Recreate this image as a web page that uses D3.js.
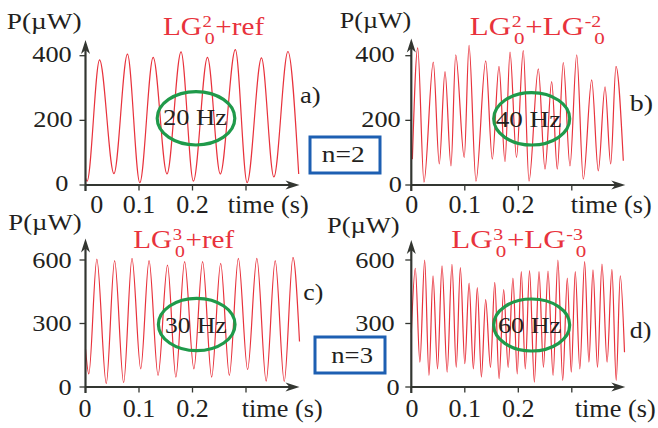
<!DOCTYPE html>
<html><head><meta charset="utf-8">
<script src="https://cdn.jsdelivr.net/npm/d3@7"></script>
<style>html,body{margin:0;padding:0;background:#fff;} svg{display:block;} text{font-family:"Liberation Serif",serif;}</style>
</head><body><svg id="chart" width="658" height="428"></svg>
<script>
// ---------- data ----------
// a) LG2_0 + ref  (20 Hz)
const aTime  = [0, 0.003, 0.0263, 0.0532, 0.0784, 0.1015, 0.1265, 0.1523, 0.1786, 0.2017, 0.228, 0.2519, 0.2801, 0.3021, 0.3289, 0.3521, 0.3784, 0.3985];
const aPower = [22, 12, 387, 35, 405, 7, 395, 34, 412, 12, 395, 34, 419, 7, 393, 25, 413, 34];
// b) LG2_0 + LG-2_0  (40 Hz)
const bTime  = [0.002, 0.012, 0.0237, 0.0411, 0.0523, 0.063, 0.0742, 0.083, 0.099, 0.1079, 0.1209, 0.1391, 0.1514, 0.1639, 0.1751, 0.1845, 0.1966, 0.2093, 0.22, 0.2374, 0.2499, 0.2624, 0.2729, 0.2841, 0.2966, 0.3092, 0.3215, 0.3372, 0.3495, 0.3621, 0.3727, 0.3826, 0.3963];
const bPower = [80, 424, 9, 380, 65, 351, 59, 403, 85, 432, 12, 384, 80, 367, 72, 411, 85, 416, 12, 359, 49, 320, 49, 379, 59, 403, 18, 325, 44, 304, 65, 367, 75];
// c) LG3_0 + ref  (30 Hz)
const cTime  = [0, 0.0062, 0.0212, 0.0388, 0.0544, 0.0713, 0.0869, 0.1032, 0.1188, 0.1356, 0.1533, 0.1689, 0.1852, 0.2026, 0.2189, 0.2358, 0.2527, 0.2689, 0.2857, 0.303, 0.3203, 0.3377, 0.3546, 0.3715, 0.3878, 0.4];
const cPower = [179, 62, 604, 16, 597, 20, 608, 86, 597, 55, 576, 47, 592, 86, 592, 47, 584, 55, 608, 82, 608, 28, 597, 26, 612, 215];
// d) LG3_0 + LG-3_0  (60 Hz)
const dTime  = [0, 0.0075, 0.016, 0.025, 0.033, 0.0406, 0.049, 0.0574, 0.067, 0.076, 0.084, 0.0917, 0.100, 0.108, 0.116, 0.1234, 0.131, 0.139, 0.148, 0.156, 0.164, 0.1727, 0.181, 0.19, 0.198, 0.2056, 0.213, 0.221, 0.230, 0.2387, 0.247, 0.2555, 0.265, 0.274, 0.283, 0.2916, 0.299, 0.3065, 0.315, 0.324, 0.332, 0.3396, 0.348, 0.3564, 0.366, 0.375, 0.383, 0.3906, 0.3985];
const dPower = [257, 561, 117, 600, 55, 525, 86, 572, 70, 580, 93, 564, 110, 491, 86, 470, 47, 413, 93, 494, 39, 460, 93, 514, 62, 545, 86, 550, 23, 545, 93, 548, 55, 600, 31, 514, 70, 545, 86, 592, 117, 553, 93, 581, 117, 556, 31, 525, 164];

const yTicksN2 = [0, 200, 400];
const yTicksN3 = [0, 300, 600];
const xTicks = [0, 0.1, 0.2, 0.3];
const xTickLabels = ["0", "0.1", "0.2"];
const titleA = [["LG","b"],["2","sup"],["0","sub"],["+ref","b"]];
const titleB = [["LG","b"],["2","sup"],["0","sub"],["+LG","b"],["-2","sup"],["0","sub"]];
const titleC = [["LG","b"],["3","sup"],["0","sub"],["+ref","b"]];
const titleD = [["LG","b"],["3","sup"],["0","sub"],["+LG","b"],["-3","sup"],["0","sub"]];
const freqLabels = ["20 Hz", "40 Hz", "30 Hz", "60 Hz"];
const panelLetters = ["a)", "b)", "c)", "d)"];
const groupLabels = ["n=2", "n=3"];

// ---------- layout ----------
const FONT = "'Liberation Serif', serif";
const RED = "#e8323c", DARK = "#231f20", AXIS = "#333631", GREEN = "#1f9a4a", BLUE = "#1d5fb2";
const svg = d3.select("#chart");
svg.append("rect").attr("width",658).attr("height",428).attr("fill","#fff");

const panels = [
  {time:aTime, power:aPower, title:titleA, x0:85.5, x1:299.5, y0:185, yTop:55.7, yMax:400, yTicks:yTicksN2, yArrow:40,
   yLabRight:[68.3,72.7,71.7], yLabDy:6.3, firstXLabDx:11.2, xLabBase:213, timeLeft:227.7,
   pLabel:[6.7,28.5,75], titlePos:[163,35,102], letter:[300,103.3,20.7],
   ell:[196,118.3,38.8,26.7], hz:[163,125,64]},
  {time:bTime, power:bPower, title:titleB, x0:411.3, x1:625.3, y0:185, yTop:55.7, yMax:400, yTicks:yTicksN2, yArrow:38.5,
   yLabRight:[402,400.7,394.7], yLabDy:6.5, firstXLabDx:0.4, xLabBase:213, timeLeft:570.7,
   pLabel:[339.7,28,71.6], titlePos:[469.7,35,135], letter:[629.7,111,23.3],
   ell:[531.7,118.8,38,26.2], hz:[495.7,126.7,65.6]},
  {time:cTime, power:cPower, title:titleC, x0:85.5, x1:299.5, y0:387, yTop:260, yMax:600, yTicks:yTicksN3, yArrow:238.5,
   yLabRight:[71.7,71.7,71.7], yLabDy:7.5, firstXLabDx:-0.5, xLabBase:416.7, timeLeft:241.7,
   pLabel:[8.3,230,73.4], titlePos:[133.3,248.3,101.7], letter:[303.3,300,20],
   ell:[196.7,324.5,38.3,26.2], hz:[165,332.7,61.7]},
  {time:dTime, power:dPower, title:titleD, x0:411.3, x1:625.3, y0:387, yTop:260, yMax:600, yTicks:yTicksN3, yArrow:240,
   yLabRight:[399.7,394.7,394.7], yLabDy:7.5, firstXLabDx:0.7, xLabBase:416.7, timeLeft:574.7,
   pLabel:[327,233,72.7], titlePos:[451.3,248.3,135], letter:[629.7,338,21.6],
   ell:[531.7,325,38,26], hz:[498,333.3,63.3]}
];

function mkText(parent, str, x, y, size, fill) {
  return parent.append("text").attr("x",x).attr("y",y).attr("font-family",FONT)
    .attr("font-size",size).attr("fill",fill).text(str);
}

function fitText(parent, str, left, base, width, size, fill, sx) {
  const g = parent.append("g");
  const t = mkText(g, str, 0, 0, size, fill);
  let s = sx || 1;
  if (width) s = width / t.node().getBBox().width;
  g.attr("transform", `translate(${left},${base}) scale(${s},1)`);
  return {g, w: t.node().getBBox().width * s, s};
}

function drawTitle(parent, tokens, left, base, width) {
  const g = parent.append("g");
  let cx = 0, supStart = 0, supW = 0, supDashW = 0;
  tokens.forEach(([s, k]) => {
    if (k === "b") {
      const t = mkText(g, s, cx, 0, 25, RED);
      cx += t.node().getComputedTextLength();
    } else if (k === "sup") {
      supStart = cx + 0.5;
      const t = mkText(g, s, supStart, -8.5, 16, RED);
      supW = t.node().getComputedTextLength();
      supDashW = s.length > 1 ? supW * 0.42 : 0;
      cx = supStart + supW;
    } else {
      const sx = supStart + supDashW + 2;
      const t = mkText(g, s, sx, 9, 17, RED);
      cx = Math.max(cx, sx + t.node().getComputedTextLength()) + 0.5;
    }
  });
  const bw = g.node().getBBox().width;
  g.attr("transform", `translate(${left},${base}) scale(${width/bw},1)`);
}

panels.forEach((p, i) => {
  const g = svg.append("g");
  const x = d3.scaleLinear().domain([0, 0.4]).range([p.x0, p.x1]);
  const y = d3.scaleLinear().domain([0, p.yMax]).range([p.y0, p.yTop]);

  // signal
  const line = d3.line().x(d => x(d[0])).y(d => y(d[1])).curve(d3.curveMonotoneX);
  g.append("path").datum(d3.zip(p.time, p.power)).attr("d", line)
    .attr("fill","none").attr("stroke",RED).attr("stroke-width",1.2).attr("stroke-linejoin","round");

  // axes
  const ax = g.append("g").attr("stroke",AXIS).attr("stroke-width",2.2);
  ax.append("line").attr("x1",x(0)).attr("x2",x(0.4)-8).attr("y1",y(0)).attr("y2",y(0));
  ax.append("line").attr("x1",x(0)).attr("x2",x(0)).attr("y1",y(0)+6).attr("y2",p.yArrow+8);
  g.append("path").attr("fill",AXIS)
    .attr("d",`M${x(0.4)},${y(0)} L${x(0.4)-14},${y(0)-4.5} L${x(0.4)-10},${y(0)} L${x(0.4)-14},${y(0)+4.5}Z`);
  g.append("path").attr("fill",AXIS)
    .attr("d",`M${x(0)},${p.yArrow} L${x(0)-4.5},${p.yArrow+14} L${x(0)},${p.yArrow+10} L${x(0)+4.5},${p.yArrow+14}Z`);
  xTicks.forEach(t => ax.append("line").attr("stroke-width",1.3).attr("x1",x(t)).attr("x2",x(t)).attr("y1",y(0)).attr("y2",y(0)+5.5));
  p.yTicks.forEach(v => ax.append("line").attr("stroke-width",1.3).attr("x1",x(0)-6).attr("x2",x(0)).attr("y1",y(v)).attr("y2",y(v)));

  // y tick labels
  p.yTicks.forEach((v, k) => {
    const r = fitText(g, String(v), 0, 0, null, 23.5, DARK, 1.12);
    r.g.attr("transform", `translate(${p.yLabRight[k] - r.w},${y(v) + p.yLabDy}) scale(1.12,1)`);
  });
  // x tick labels
  xTickLabels.forEach((s, k) => {
    const r = fitText(g, s, 0, 0, null, 26, DARK, 1);
    const cx = x(xTicks[k]) + (k === 0 ? p.firstXLabDx : 0);
    r.g.attr("transform", `translate(${cx - r.w/2},${p.xLabBase})`);
  });
  fitText(g, "time (s)", p.timeLeft, p.xLabBase, 81, 26, DARK);
  fitText(g, "P(\u00b5W)", p.pLabel[0], p.pLabel[1], p.pLabel[2], 24, DARK);
  drawTitle(g, p.title, p.titlePos[0], p.titlePos[1], p.titlePos[2]);
  fitText(g, panelLetters[i], p.letter[0], p.letter[1], p.letter[2], 24, DARK);

  // frequency ellipse
  g.append("ellipse").attr("cx",p.ell[0]).attr("cy",p.ell[1]).attr("rx",p.ell[2]).attr("ry",p.ell[3])
    .attr("fill","none").attr("stroke",GREEN).attr("stroke-width",3.2);
  fitText(g, freqLabels[i], p.hz[0], p.hz[1], p.hz[2], 23, DARK);
});

// n boxes
const boxes = [[310,137,70,36,321.7,161.7,43],[315,337,70,36,331.3,363.3,41.7]];
boxes.forEach((b, i) => {
  svg.append("rect").attr("x",b[0]).attr("y",b[1]).attr("width",b[2]).attr("height",b[3])
    .attr("fill","#fff").attr("stroke",BLUE).attr("stroke-width",3);
  fitText(svg, groupLabels[i], b[4], b[5], b[6], 23, DARK);
});
</script></body></html>
